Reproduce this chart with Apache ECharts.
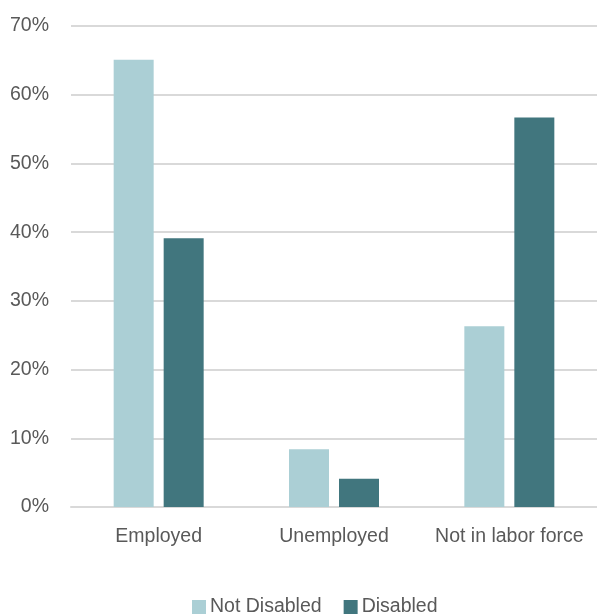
<!DOCTYPE html>
<html><head><meta charset="utf-8">
<script src="https://cdn.jsdelivr.net/npm/echarts@6/dist/echarts.min.js"></script>
<style>html,body{margin:0;padding:0;background:#fff}#c{width:597px;height:614px}</style>
</head><body><div id="c"></div>
<script>
const categories = ['Employed', 'Unemployed', 'Not in labor force'];
const notDisabled = [65.1, 8.4, 26.3];
const disabled = [39.1, 4.1, 56.7];
const seriesNames = ['Not Disabled', 'Disabled'];
const yTicks = [0, 10, 20, 30, 40, 50, 60, 70];

const FONT = '"Liberation Sans", Arial, sans-serif';
const FS = 19.5;
const chart = echarts.init(document.getElementById('c'), null, {renderer: 'canvas'});
chart.setOption({
  animation: false,
  textStyle: {fontFamily: FONT},
  grid: {left: 71, right: 0, top: 26, bottom: 107, containLabel: false},
  legend: {
    data: seriesNames, top: 592, left: 187,
    itemWidth: 14, itemHeight: 14, itemGap: 22,
    icon: 'rect',
    textStyle: {fontFamily: FONT, fontSize: FS, color: '#595959', padding: [0,0,0,-1]}
  },
  xAxis: {
    type: 'category', data: categories,
    axisLine: {show: true, lineStyle: {color: '#d9d9d9', width: 2}},
    axisTick: {show: false},
    axisLabel: {fontFamily: FONT, fontSize: FS, color: '#595959', margin: 20, interval: 0}
  },
  yAxis: {
    type: 'value', min: yTicks[0], max: yTicks[yTicks.length-1], interval: 10,
    axisLine: {show: false}, axisTick: {show: false},
    splitLine: {lineStyle: {color: '#d9d9d9', width: 2}},
    axisLabel: {fontFamily: FONT, fontSize: FS, color: '#595959', margin: 22, formatter: v => v + '%'}
  },
  series: [
    {name: seriesNames[0], type: 'bar', data: notDisabled, barWidth: 40, barGap: '25%',
     itemStyle: {color: '#abcfd5'}},
    {name: seriesNames[1], type: 'bar', data: disabled, barWidth: 40, barGap: '25%',
     itemStyle: {color: '#41767e'}}
  ]
});
</script></body></html>
